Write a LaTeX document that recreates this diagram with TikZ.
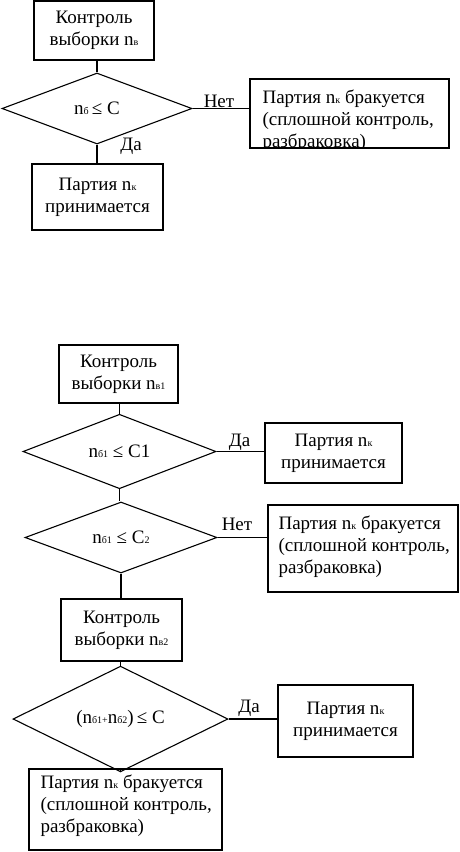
\documentclass[tikz,border=0pt]{standalone}
\usepackage{fontspec}
\setmainfont{Liberation Serif}
\usetikzlibrary{shapes.geometric}

\newcommand{\ix}[1]{{\fontsize{10}{10}\selectfont #1}}

\begin{document}
\begin{tikzpicture}[x=1pt,y=-1pt,line width=1.1pt,
  every node/.style={font=\fontsize{19}{22}\selectfont},
  box/.style={draw,rectangle,align=center,inner sep=0pt},
  decide/.style={draw,diamond,inner sep=0pt},
  lbl/.style={inner sep=0pt,anchor=base},
  txt/.style={inner sep=0pt,anchor=north west,align=left}]
\useasboundingbox (0,0) rectangle (459,852);

% first scheme
\node[box,minimum width=120pt,minimum height=59pt] (kv1) at (94,30.5) {Контроль\\выборки n\ix{в}};
\node[decide,minimum width=190pt,minimum height=71pt] (d1) at (97,108.5) {n\ix{б}\,≤ C};
\node[box,minimum width=199pt,minimum height=69pt] (r1) at (349.5,113.5) {};
\begin{scope}
\clip (r1.south west) rectangle (r1.north east);
\node[txt] (r1t) at (262,89) {Партия n\ix{к} бракуется\\(сплошной контроль,\\разбраковка)};
\end{scope}
\node[box,minimum width=131pt,minimum height=66pt] (p1) at (97.5,197) {Партия n\ix{к}\\принимается};
\node[lbl] (net1) at (219,107) {Нет};
\node[lbl] (da1) at (131,150) {Да};

\draw (d1.north) -- (d1.north |- kv1.south);
\draw (d1.east) -- (d1.east -| r1.west);
\draw (d1.south) -- (d1.south |- p1.north);

% second scheme
\node[box,minimum width=119pt,minimum height=58pt] (kv2) at (118.5,374) {Контроль\\выборки n\ix{в1}};
\node[decide,minimum width=193pt,minimum height=73pt] (d2) at (119.5,451.5) {n\ix{б1} ≤ C1};
\node[box,minimum width=137pt,minimum height=60pt] (p2) at (333.5,453) {Партия n\ix{к}\\принимается};
\node[decide,minimum width=192pt,minimum height=71pt] (d3) at (121,537.5) {n\ix{б1} ≤ C\ix{2}};
\node[box,minimum width=190pt,minimum height=87pt] (r2) at (363,548.5) {};
\node[txt] (r2t) at (278,515) {Партия n\ix{к} бракуется\\(сплошной контроль,\\разбраковка)};
\node[box,minimum width=121pt,minimum height=62pt] (kv3) at (121.5,630) {Контроль\\выборки n\ix{в2}};
\node[decide,minimum width=215pt,minimum height=72pt] (d4) at (120.5,719) {(n\ix{б1+}n\ix{б2})\,≤ C};
\node[box,minimum width=135pt,minimum height=72pt] (p3) at (345.5,721) {Партия n\ix{к}\\принимается};
\node[box,minimum width=193pt,minimum height=81pt] (r3) at (125.5,809.5) {};
\node[txt] (r3t) at (40,774) {Партия n\ix{к} бракуется\\(сплошной контроль,\\разбраковка)};
\node[lbl] (da2) at (239.5,446) {Да};
\node[lbl] (net2) at (237,530) {Нет};
\node[lbl] (da3) at (249,712) {Да};

\draw (d2.north) -- (d2.north |- kv2.south);
\draw (d2.east) -- (d2.east -| p2.west);
\draw (d2.south) -- (d2.south |- d3.north);
\draw (d3.east) -- (d3.east -| r2.west);
\draw (d3.south) -- (d3.south |- kv3.north);
\draw (d4.north) -- (d4.north |- kv3.south);
\draw (d4.east) -- (d4.east -| p3.west);
\draw (d4.south) -- (d4.south |- r3.north);
\end{tikzpicture}
\end{document}
